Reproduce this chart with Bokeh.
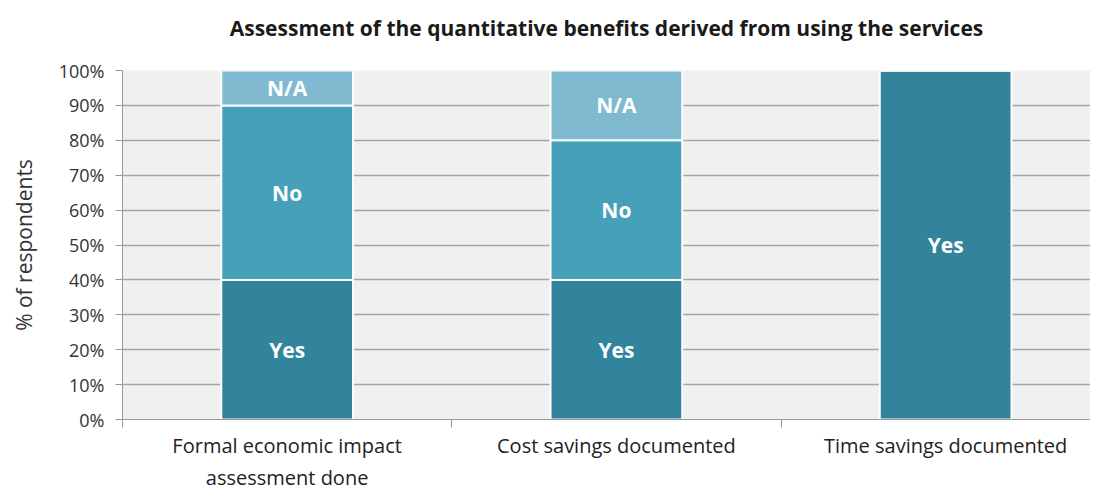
from bokeh.plotting import figure
from bokeh.models import ColumnDataSource, FixedTicker, Range1d, Title
from bokeh.core.properties import value
from bokeh.embed import file_html
from bokeh.resources import INLINE

categories = ["Formal economic impact\nassessment done", "Cost savings documented", "Time savings documented"]
yes = [40, 40, 100]
no = [50, 40, 0]
na = [10, 20, 0]
series_names = ["Yes", "No", "N/A"]
colors = ["#31849B", "#47A0BA", "#7FBAD0"]

xs = [i + 0.5 for i in range(len(categories))]

p = figure(width=1090, height=493, output_backend="svg", toolbar_location=None,
           x_range=Range1d(0, 2.94), y_range=Range1d(0, 100),
           min_border_left=122, min_border_right=0, min_border_top=70, min_border_bottom=73)

p.title.text = "Assessment of the quantitative benefits derived from using the services"
p.title.align = "center"
p.title.text_font = "Open Sans"
p.title.text_font_size = "21px"
p.title.text_font_style = "bold"
p.title.text_color = "#1a1a1a"
p.title.standoff = 10
# empty spacer between title and plot frame
p.add_layout(Title(text=" ", text_font_size="20px", standoff=0), "above")

p.background_fill_color = "#f0f0f0"
p.border_fill_color = "white"
p.outline_line_color = None

# stacked bars
src = ColumnDataSource(dict(x=xs, Yes=yes, No=no, NA=na))
p.vbar_stack(["Yes", "No", "NA"], x="x", width=0.4, source=src, color=colors,
             line_color="white", line_width=2)

# segment labels
lx, ly, lt = [], [], []
for i, x in enumerate(xs):
    base = 0
    for name, vals in zip(series_names, [yes, no, na]):
        v = vals[i]
        if v > 0:
            lx.append(x)
            ly.append(base + v / 2)
            lt.append(name)
        base += v
p.text(x=lx, y=ly, text=lt, text_color="white", text_font=value("Open Sans"),
       text_font_size="21px", text_font_style="bold", text_align="center", text_baseline="middle")

# axes
p.xgrid.grid_line_color = None
p.ygrid.grid_line_color = "#a6a6a6"
p.ygrid.grid_line_width = 1.5
p.yaxis.ticker = FixedTicker(ticks=list(range(0, 101, 10)))
p.yaxis.major_label_overrides = {t: f"{t}%" for t in range(0, 101, 10)}
p.yaxis.axis_label = "% of respondents"
p.yaxis.axis_label_text_font = "Open Sans"
p.yaxis.axis_label_text_font_size = "21px"
p.yaxis.axis_label_text_font_style = "normal"
p.yaxis.axis_label_text_color = "#333333"
p.yaxis.axis_label_standoff = 18
p.yaxis.major_label_text_font = "Open Sans"
p.yaxis.major_label_text_font_size = "18px"
p.yaxis.major_label_text_color = "#333333"
p.yaxis.major_label_standoff = 11
p.yaxis.axis_line_color = "#999999"
p.yaxis.major_tick_line_color = "#999999"
p.yaxis.major_tick_out = 7
p.yaxis.major_tick_in = 0
p.yaxis.minor_tick_line_color = None

p.xaxis.ticker = FixedTicker(ticks=xs, minor_ticks=list(range(len(categories) + 1)))
p.xaxis.major_label_overrides = {x: c for x, c in zip(xs, categories)}
p.xaxis.major_label_text_font = "Open Sans"
p.xaxis.major_label_text_font_size = "20px"
p.xaxis.major_label_text_color = "#222222"
p.xaxis.major_label_standoff = 4
p.xaxis.major_tick_line_color = None
p.xaxis.minor_tick_line_color = "#999999"
p.xaxis.minor_tick_out = 8
p.xaxis.minor_tick_in = 0
p.xaxis.axis_line_color = "#999999"

open("out.html", "w").write(file_html(p, INLINE))
